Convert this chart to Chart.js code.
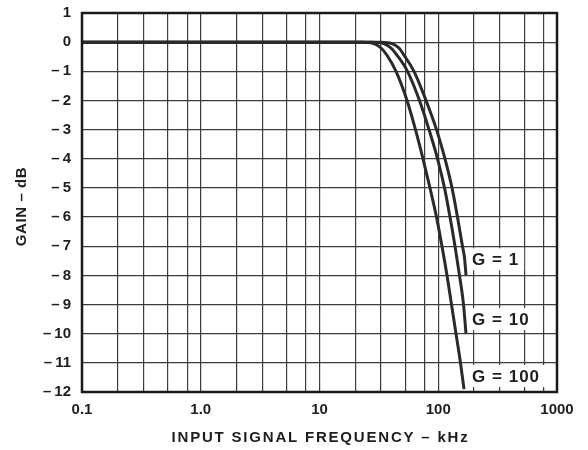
<!DOCTYPE html>
<html>
<head>
<meta charset="utf-8">
<script src="https://cdn.jsdelivr.net/npm/chart.js@4.4.1/dist/chart.umd.min.js"></script>
<style>
  html, body { margin: 0; padding: 0; background: #ffffff; }
  #wrap { width: 588px; height: 450px; position: relative; }
</style>
</head>
<body>
<div id="wrap"><canvas id="c" width="588" height="450"></canvas></div>
<script>
// ---- Data ----
const freqG1   = [0.1, 10, 33.0, 40.8, 46.7, 51.5, 62.5, 78.9, 96.7, 114.0, 130.6, 145.2, 160.0, 166.4, 171.3];
const gainG1   = [0,   0,  0,    -0.05, -0.2, -0.45, -1,  -2,   -3,   -4,    -5,    -6,    -7,    -7.4,  -8];

const freqG10  = [0.1, 10, 27.7, 34.9, 40.0, 45.0, 55.1, 69.5, 83.6, 98.6, 112.9, 125.6, 138.4, 151.0, 163.2, 171.3];
const gainG10  = [0,   0,  0,    -0.05, -0.2, -0.45, -1,  -2,   -3,   -4,   -5,    -6,    -7,    -8,    -9,    -10];

const freqG100 = [0.1, 10, 22.8, 28.8, 33.0, 37.0, 44.1, 54.6, 64.3, 74.4, 85.2, 96.7, 107.5, 118.5, 129.3, 141.1, 153.9, 164.8];
const gainG100 = [0,   0,  0,    -0.05, -0.2, -0.45, -1,  -2,   -3,   -4,   -5,   -6,   -7,    -8,    -9,    -10,   -11,   -11.9];

const seriesNames = ['G = 1', 'G = 10', 'G = 100'];
const labelGain   = [-7.45, -9.5, -11.45];
const labelFreq   = 175;

const decadeTicks  = [0.1, 1, 10, 100, 1000];
const decadeLabels = ['0.1', '1.0', '10', '100', '1000'];
const minorSteps   = [2, 3.3, 5.3, 7.7];

const yMin = -12, yMax = 1;
const xTitle = 'INPUT SIGNAL FREQUENCY – kHz';
const yTitle = 'GAIN – dB';

// ---- Build ----
function pts(xs, ys) { return xs.map((x, i) => ({ x: x, y: ys[i] })); }

const gridValues = [];
decadeTicks.forEach((d, i) => {
  gridValues.push(d);
  if (i < decadeTicks.length - 1) minorSteps.forEach(m => gridValues.push(d * m));
});

const FONT = "'Liberation Sans', Arial, Helvetica, sans-serif";
const INK = '#1e1e1e';
const GRID = '#3c3c3c';

const labelPlugin = {
  id: 'curveLabels',
  afterDatasetsDraw(chart) {
    const ctx = chart.ctx;
    const xs = chart.scales.x, ys = chart.scales.y;
    ctx.save();
    ctx.font = 'bold 17px ' + FONT;
    ctx.letterSpacing = '1px';
    ctx.textBaseline = 'middle';
    seriesNames.forEach((name, i) => {
      const px = xs.getPixelForValue(labelFreq);
      const py = ys.getPixelForValue(labelGain[i]);
      const w = ctx.measureText(name).width;
      ctx.fillStyle = '#ffffff';
      ctx.fillRect(px + 2, py - 11, w + 8, 22);
      ctx.fillStyle = INK;
      ctx.fillText(name, px + 5, py + 1);
    });
    ctx.restore();
  },
  afterDraw(chart) {
    const a = chart.chartArea, ctx = chart.ctx;
    ctx.save();
    ctx.strokeStyle = '#1a1a1a';
    ctx.lineWidth = 2.5;
    ctx.strokeRect(a.left, a.top, a.right - a.left, a.bottom - a.top);
    // axis titles
    ctx.fillStyle = INK;
    ctx.textAlign = 'center';
    ctx.textBaseline = 'middle';
    ctx.font = 'bold 15px ' + FONT;
    ctx.letterSpacing = '1.8px';
    ctx.fillText(xTitle, (a.left + a.right) / 2 + 1, 438);
    ctx.letterSpacing = '0.6px';
    ctx.translate(22, (a.top + a.bottom) / 2 + 4);
    ctx.rotate(-Math.PI / 2);
    ctx.fillText(yTitle, 0, 0);
    ctx.restore();
  }
};

const lineStyle = {
  borderColor: '#2a2a2a',
  borderWidth: 3,
  pointRadius: 0,
  fill: false,
  cubicInterpolationMode: 'monotone'
};

new Chart(document.getElementById('c'), {
  type: 'line',
  data: {
    datasets: [
      Object.assign({ label: seriesNames[0], data: pts(freqG1, gainG1) }, lineStyle),
      Object.assign({ label: seriesNames[1], data: pts(freqG10, gainG10) }, lineStyle),
      Object.assign({ label: seriesNames[2], data: pts(freqG100, gainG100) }, lineStyle)
    ]
  },
  options: {
    responsive: false,
    animation: false,
    layout: { padding: { top: 13, right: 31, left: 0, bottom: 0 } },
    plugins: { legend: { display: false }, tooltip: { enabled: false } },
    scales: {
      x: {
        type: 'logarithmic',
        min: 0.1, max: 1000,
        afterBuildTicks(scale) {
          scale.ticks = gridValues.map(v => ({ value: v, major: decadeTicks.includes(v) }));
        },
        afterFit(scale) { scale.height = 58; scale.paddingLeft = 0; scale.paddingRight = 0; },
        grid: { color: GRID, lineWidth: 1.2, drawTicks: false },
        border: { display: false },
        ticks: {
          autoSkip: false, maxRotation: 0, minRotation: 0,
          padding: 9,
          color: INK,
          font: { family: FONT, size: 15, weight: 'bold' },
          callback(v) {
            const i = decadeTicks.findIndex(d => Math.abs(d - v) / d < 1e-6);
            return i >= 0 ? decadeLabels[i] : '';
          }
        }
      },
      y: {
        type: 'linear',
        min: yMin, max: yMax,
        afterFit(scale) { scale.width = 82; scale.paddingTop = 0; scale.paddingBottom = 0; },
        grid: { color: GRID, lineWidth: 1.2, drawTicks: false },
        border: { display: false },
        ticks: {
          stepSize: 1,
          padding: 11,
          color: INK,
          font: { family: FONT, size: 15, weight: 'bold' },
          callback(v) { return v < 0 ? '–\u2009' + Math.abs(v) : String(v); }
        }
      }
    }
  },
  plugins: [labelPlugin]
});
</script>
</body>
</html>
